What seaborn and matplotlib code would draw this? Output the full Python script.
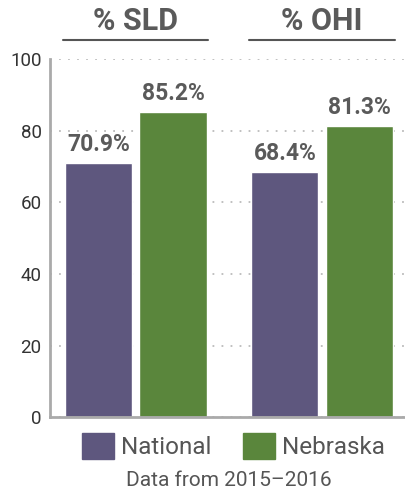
import matplotlib
matplotlib.use("Agg")
import matplotlib.pyplot as plt
import matplotlib.transforms as mtransforms
from matplotlib.patches import Patch
import pandas as pd
import seaborn as sns

groups = ["% SLD", "% OHI"]
regions = ["National", "Nebraska"]
national = [70.9, 68.4]
nebraska = [85.2, 81.3]
y_ticks = [0, 20, 40, 60, 80, 100]
footer = "Data from 2015\u20132016"

PURPLE = "#5e577e"
GREEN = "#5a863c"
TEXT = "#5a5a5a"

df = pd.DataFrame({
    "group": groups * 2,
    "region": [regions[0]] * 2 + [regions[1]] * 2,
    "value": national + nebraska,
})

sns.set_style("white")
plt.rcParams["font.family"] = ["Roboto", "DejaVu Sans"]

fig = plt.figure(figsize=(4.06, 4.92), dpi=100)
ax = fig.add_axes([0.123, 0.152, 0.877, 0.728])

sns.barplot(data=df, x="group", y="value", hue="region", order=groups,
            hue_order=regions, palette=[PURPLE, GREEN], width=0.8, gap=0.1,
            saturation=1, legend=False, ax=ax)

for cont in ax.containers:
    ax.bar_label(cont, labels=[f"{v:.1f}%" for v in cont.datavalues],
                 padding=5, fontsize=16.5, fontweight="bold", color=TEXT)

ax.set_xlim(-0.46, 1.45)
ax.set_ylim(0, 100)
ax.set_yticks(y_ticks)
ax.tick_params(axis="y", labelsize=13.5, colors="#333333", length=0, pad=6)
ax.set_xticks([])
ax.set_xlabel("")
ax.set_ylabel("")
ax.yaxis.grid(True, linestyle=(0, (1, 4)), color="#bbbbbb", linewidth=1.3)
ax.set_axisbelow(True)
for s in ["top", "right"]:
    ax.spines[s].set_visible(False)
for s in ["left", "bottom"]:
    ax.spines[s].set_color("#aaaaaa")
    ax.spines[s].set_linewidth(2)

# group headers with underline
trans = mtransforms.blended_transform_factory(ax.transData, fig.transFigure)
for i, g in enumerate(groups):
    ax.text(i, 0.957, g, transform=trans, ha="center", va="center",
            fontsize=22, fontweight="bold", color=TEXT)
    ax.plot([i - 0.39, i + 0.39], [0.919, 0.919], transform=trans,
            color="#555555", linewidth=1.5, clip_on=False)

handles = [Patch(color=PURPLE, label=regions[0]), Patch(color=GREEN, label=regions[1])]
fig.legend(handles=handles, loc="center", bbox_to_anchor=(0.575, 0.093), ncol=2,
           frameon=False, fontsize=17.5, handlelength=1.3, handleheight=1.3,
           handletextpad=0.3, columnspacing=1.3, labelcolor="#555555")

fig.text(0.564, 0.024, footer, ha="center", va="center", fontsize=15, color="#555555")

fig.savefig("out.png", dpi=100)
